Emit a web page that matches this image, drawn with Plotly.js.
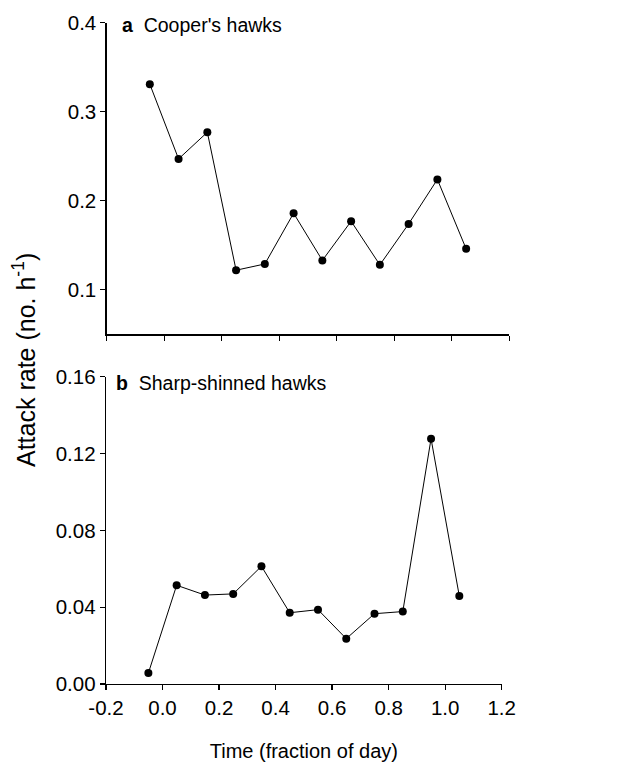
<!DOCTYPE html>
<html>
<head>
<meta charset="utf-8">
<script src="https://cdn.plot.ly/plotly-3.0.1.min.js"></script>
<style>html,body{margin:0;padding:0;background:#fff;}#chart{width:635px;height:765px;}</style>
</head>
<body>
<div id="chart"></div>
<script>
// Time of day (fraction of day), bin centres
const timeFraction = [-0.05, 0.05, 0.15, 0.25, 0.35, 0.45, 0.55, 0.65, 0.75, 0.85, 0.95, 1.05];
// Attack rate (no. h^-1)
const coopersHawks = [0.331, 0.247, 0.277, 0.122, 0.129, 0.186, 0.133, 0.177, 0.128, 0.174, 0.224, 0.146];
const sharpShinnedHawks = [0.0057, 0.0514, 0.0463, 0.0469, 0.0613, 0.0371, 0.0387, 0.0236, 0.0366, 0.0377, 0.1277, 0.0458];

const xTickVals = [-0.2, 0.0, 0.2, 0.4, 0.6, 0.8, 1.0, 1.2];
const xTickText = ["-0.2", "0.0", "0.2", "0.4", "0.6", "0.8", "1.0", "1.2"];
const yTopTickVals = [0.1, 0.2, 0.3, 0.4];
const yTopTickText = ["0.1", "0.2", "0.3", "0.4"];
const yBotTickVals = [0.00, 0.04, 0.08, 0.12, 0.16];
const yBotTickText = ["0.00", "0.04", "0.08", "0.12", "0.16"];

const FONT = '"Liberation Sans", Arial, Helvetica, sans-serif';

const lineStyle = {color: '#000', width: 1};
const markerStyle = {color: '#000', size: 8};

const traces = [
  {x: timeFraction, y: coopersHawks, xaxis: 'x', yaxis: 'y', mode: 'lines+markers',
   line: lineStyle, marker: markerStyle, cliponaxis: false, name: "Cooper's hawks"},
  {x: timeFraction, y: sharpShinnedHawks, xaxis: 'x2', yaxis: 'y2', mode: 'lines+markers',
   line: lineStyle, marker: markerStyle, cliponaxis: false, name: 'Sharp-shinned hawks'}
];

const axisCommon = {
  showgrid: false, zeroline: false, showline: true, linecolor: '#000', linewidth: 1.3,
  ticks: 'outside', ticklen: 5, tickwidth: 1.3, tickcolor: '#000',
  tickfont: {family: FONT, size: 20.5, color: '#000'}, tickmode: 'array'
};

const layout = {
  width: 635, height: 765,
  margin: {l: 0, r: 0, t: 0, b: 0},
  paper_bgcolor: '#fff', plot_bgcolor: '#fff',
  showlegend: false,
  font: {family: FONT, color: '#000'},
  xaxis: Object.assign({}, axisCommon, {
    domain: [0.1680, 0.8020], range: [-0.2, 1.2], anchor: 'y',
    tickvals: xTickVals, ticktext: xTickText, showticklabels: false
  }),
  yaxis: Object.assign({}, axisCommon, {
    domain: [0.5630, 0.9703], range: [0.05, 0.4], anchor: 'x',
    tickvals: yTopTickVals, ticktext: yTopTickText
  }),
  xaxis2: Object.assign({}, axisCommon, {
    domain: [0.1669, 0.7901], range: [-0.2, 1.2], anchor: 'y2',
    tickvals: xTickVals, ticktext: xTickText,
    title: {text: 'Time (fraction of day)', font: {family: FONT, size: 20, color: '#000'}, standoff: 26}
  }),
  yaxis2: Object.assign({}, axisCommon, {
    domain: [0.1059, 0.5076], range: [0, 0.16], anchor: 'x2',
    tickvals: yBotTickVals, ticktext: yBotTickText
  }),
  annotations: [
    {text: "<b>a</b>  Cooper's hawks", xref: 'paper', yref: 'paper', x: 120/635, y: 1 - 25/765,
     xanchor: 'left', yanchor: 'middle', showarrow: false, font: {family: FONT, size: 19.5, color: '#000'}},
    {text: "<b>b</b>  Sharp-shinned hawks", xref: 'paper', yref: 'paper', x: 114/635, y: 1 - 383/765,
     xanchor: 'left', yanchor: 'middle', showarrow: false, font: {family: FONT, size: 19.5, color: '#000'}},
    {text: 'Attack rate (no. h<sup>-1</sup>)', xref: 'paper', yref: 'paper', x: 24/635, y: 1 - 360/765,
     xanchor: 'center', yanchor: 'middle', textangle: -90, showarrow: false,
     font: {family: FONT, size: 25, color: '#000'}}
  ]
};

Plotly.newPlot('chart', traces, layout, {displayModeBar: false, staticPlot: true});
</script>
</body>
</html>
